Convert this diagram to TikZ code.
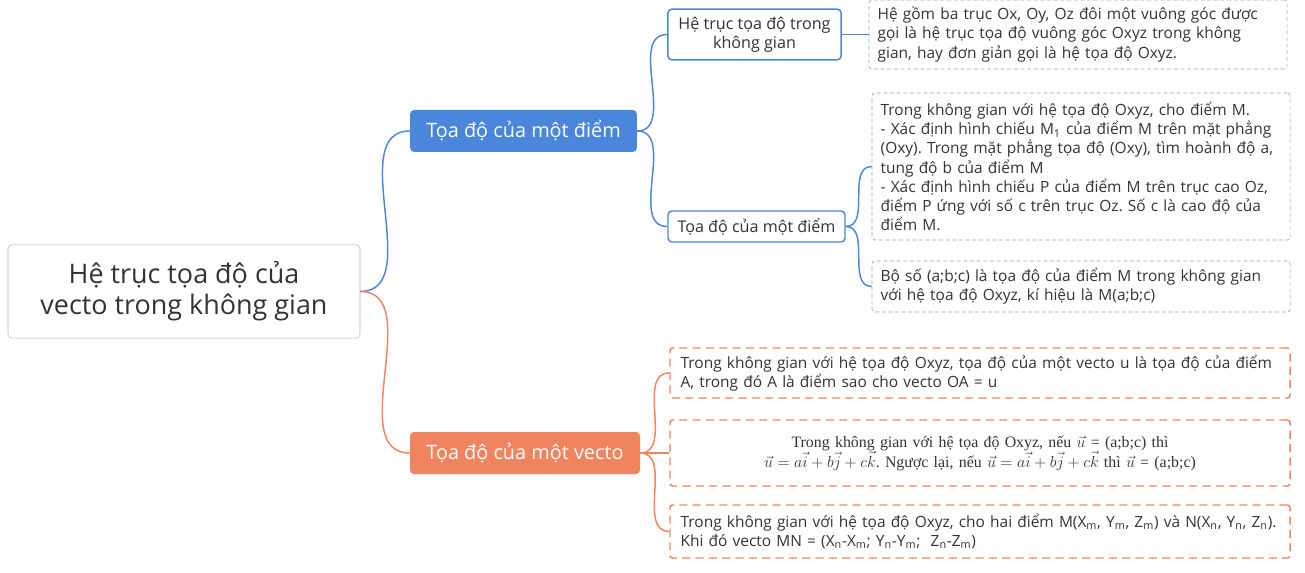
\documentclass[tikz,border=0pt]{standalone}
\usepackage{fontspec}
\setmainfont{Open Sans}
\newfontfamily\formulafont{Liberation Serif}
\definecolor{pointblue}{HTML}{4A86DB}
\definecolor{vectorange}{HTML}{F0845F}
\definecolor{inkgray}{HTML}{333333}
\frenchspacing

\begin{document}
\begin{tikzpicture}[x=0.75pt,y=-0.75pt, text=inkgray,
  root node/.style={draw=gray!60, rounded corners=3pt, align=center,
    minimum width=264pt, minimum height=70pt,
    font=\fontsize{20.2}{23.25}\selectfont},
  main node/.style={rounded corners=3pt, text=white, minimum height=31.5pt,
    font=\fontsize{14.9}{17}\selectfont},
  sub node/.style={draw=pointblue, line width=1.1pt, rounded corners=3pt,
    fill=white, align=center, font=\fontsize{12.1}{14.5}\selectfont},
  blue leaf/.style={draw=pointblue!75, dash pattern=on 3pt off 2pt,
    rounded corners=2pt, inner xsep=6.5pt, align=left, text width=300.5pt,
    minimum width=313.5pt, font=\fontsize{11.6}{14.4}\selectfont},
  orange leaf/.style={draw=vectorange, line width=1.1pt, dash pattern=on 6pt off 4pt,
    rounded corners=2pt, inner xsep=8pt, align=left, text width=449pt,
    minimum width=465pt, font=\fontsize{11.6}{14.25}\selectfont},
  blue line/.style={draw=pointblue, line width=1.1pt},
  orange line/.style={draw=vectorange, line width=1.1pt}]
\useasboundingbox (0,0) rectangle (1305,573);

\node[root node] (root) at (184,291.5) {Hệ trục tọa độ của\\vecto trong không gian};
\node[main node, fill=pointblue, minimum width=170pt] (point) at (523.5,131) {Tọa độ của một điểm};
\node[main node, fill=vectorange, minimum width=172.5pt] (vector) at (525,453) {Tọa độ của một vecto};

\node[sub node, minimum width=130pt, minimum height=38pt] (axes) at (754.5,34.5) {Hệ trục tọa độ trong\\không gian};
\node[sub node, minimum width=132.75pt, minimum height=23.25pt] (pointdef) at (756.5,226.5) {Tọa độ của một điểm};

\node[blue leaf, minimum height=51.75pt] (axesinfo) at (1078,34.5)
  {Hệ gồm ba trục Ox, Oy, Oz đôi một vuông góc được\\
   gọi là hệ trục tọa độ vuông góc Oxyz trong không\\
   gian, hay đơn giản gọi là hệ tọa độ Oxyz.};
\node[blue leaf, minimum height=110.25pt] (howto) at (1081,166.5)
  {Trong không gian với hệ tọa độ Oxyz, cho điểm M.\\
   - Xác định hình chiếu M\textsubscript{1} của điểm M trên mặt phẳng\\
   (Oxy). Trong mặt phẳng tọa độ (Oxy), tìm hoành độ a,\\
   tung độ b của điểm M\\
   - Xác định hình chiếu P của điểm M trên trục cao Oz,\\
   điểm P ứng với số c trên trục Oz. Số c là cao độ của\\
   điểm M.};
\node[blue leaf, minimum height=38.25pt] (triple) at (1081,286.5)
  {Bộ số (a;b;c) là tọa độ của điểm M trong không gian\\
   với hệ tọa độ Oxyz, kí hiệu là M(a;b;c)};

\node[orange leaf, minimum height=37.5pt] (vecdef) at (980,373)
  {Trong không gian với hệ tọa độ Oxyz, tọa độ của một vecto u là tọa độ của điểm\\
   A, trong đó A là điểm sao cho vecto OA = u};
\node[orange leaf, minimum height=49.5pt, align=center,
  font=\formulafont\fontsize{11.9}{15}\selectfont] (formula) at (980,453)
  {\mbox{Trong không gian với hệ tọa độ Oxyz, nếu $\vec{u}$ = (a;b;c) thì}\\
   \mbox{$\vec{u}=a\vec{i}+b\vec{j}+c\vec{k}$. Ngược lại, nếu $\vec{u}=a\vec{i}+b\vec{j}+c\vec{k}$ thì $\vec{u}$ = (a;b;c)}};
\node[orange leaf, minimum height=39.75pt] (twopoints) at (980,531.5)
  {Trong không gian với hệ tọa độ Oxyz, cho hai điểm M(X\textsubscript{m}, Y\textsubscript{m}, Z\textsubscript{m}) và N(X\textsubscript{n}, Y\textsubscript{n}, Z\textsubscript{n}).\\
   Khi đó vecto MN = (X\textsubscript{n}-X\textsubscript{m}; Y\textsubscript{n}-Y\textsubscript{m};\ \ Z\textsubscript{n}-Z\textsubscript{m})};

\path[blue line]
(root.east)     edge[out=0, in=180] (point.west)
(point.east)    edge[out=0, in=180] (axes.west)
                edge[out=0, in=180] (pointdef.west)
(axes.east)     edge (axesinfo.west)
(pointdef.east) edge[out=0, in=180] (howto.west)
                edge[out=0, in=180] (triple.west);
\path[orange line]
(root.east)     edge[out=0, in=180] (vector.west)
(vector.east)   edge[out=0, in=180] (vecdef.west)
                edge (formula.west)
                edge[out=0, in=180] (twopoints.west);
\end{tikzpicture}
\end{document}
